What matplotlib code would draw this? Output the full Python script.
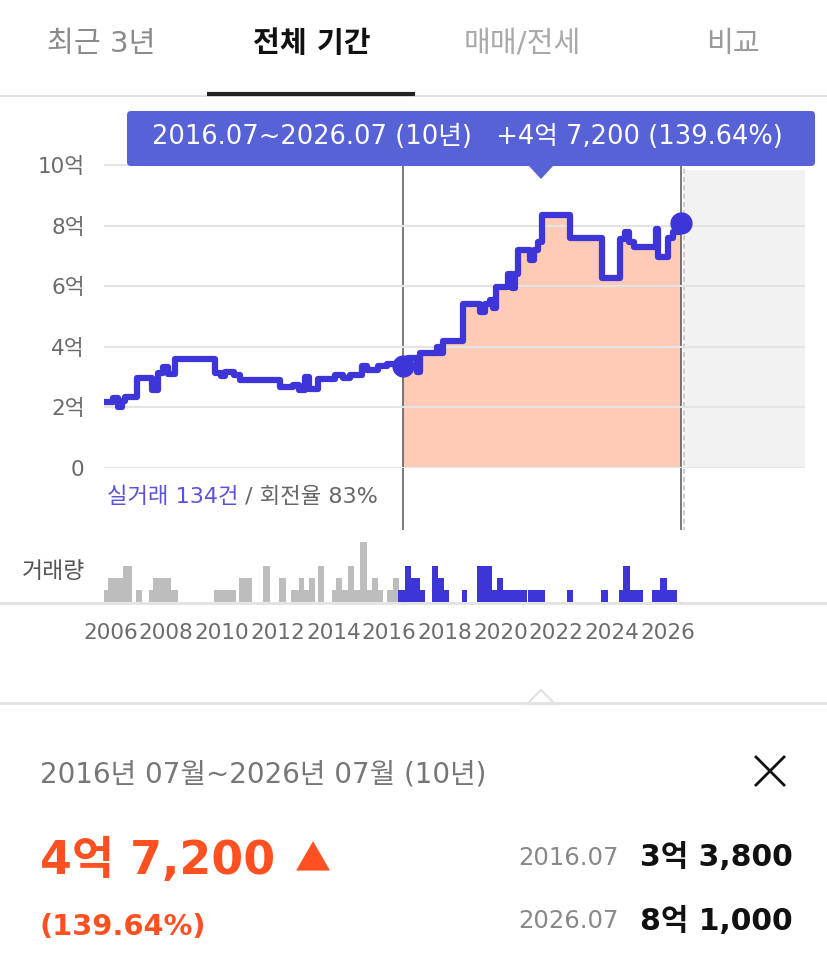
import matplotlib
matplotlib.use("Agg")
import matplotlib.pyplot as plt
from matplotlib.patches import FancyBboxPatch, Polygon

# Latin digits from DejaVu (wide like the original UI font), Hangul falls back
plt.rcParams["font.family"] = ["DejaVu Sans", "Noto Sans CJK KR"]

# ---- data -------------------------------------------------------------
tabs = ["최근 3년", "전체 기간", "매매/전세", "비교"]
active_tab = 1

# price path (억 원), step changes
line_t = [2005.86, 2006.10, 2006.28, 2006.40, 2006.52, 2006.94, 2007.48, 2007.72,
          2007.90, 2008.08, 2008.30, 2009.75, 2009.95, 2010.12, 2010.45, 2010.65,
          2012.09, 2012.56, 2012.78, 2013.00, 2013.12, 2013.45, 2014.06, 2014.36,
          2014.60, 2015.02, 2015.20, 2015.62, 2015.92, 2016.50, 2016.69, 2017.00,
          2017.10, 2017.71, 2017.81, 2017.95, 2018.67, 2019.27, 2019.45, 2019.63,
          2019.75, 2019.84, 2020.28, 2020.40, 2020.52, 2020.64, 2021.08, 2021.20,
          2021.36, 2021.48, 2022.50, 2023.66, 2024.29, 2024.47, 2024.62, 2024.80,
          2025.58, 2025.66, 2026.00, 2026.18, 2026.42, 2026.50]
line_v = [2.17, 2.30, 2.02, 2.20, 2.35, 2.98, 2.57, 3.13,
          3.34, 3.10, 3.59, 3.13, 3.02, 3.16, 3.07, 2.90,
          2.66, 2.74, 2.57, 3.00, 2.60, 2.93, 3.06, 2.98,
          3.08, 3.36, 3.25, 3.36, 3.43, 3.38, 3.62, 3.18,
          3.79, 4.00, 3.79, 4.20, 5.41, 5.15, 5.40, 5.54,
          5.27, 5.98, 6.40, 5.95, 6.40, 7.19, 6.85, 7.20,
          7.47, 8.35, 7.58, 6.26, 7.55, 7.80, 7.45, 7.30,
          7.90, 6.97, 7.60, 7.80, 8.10, 8.10]

# transaction volume (step histogram): segment start, end, count
vol_t0 = [2005.77, 2005.92, 2006.44, 2006.90, 2007.39, 2007.54, 2008.17, 2009.73,
          2010.62, 2011.49, 2012.06, 2012.48, 2012.78, 2012.96, 2013.14, 2013.44,
          2013.94, 2014.10, 2014.32, 2014.54, 2014.75, 2014.96, 2015.20, 2015.40,
          2015.62, 2015.92, 2016.15,
          2016.33, 2016.57, 2016.79, 2017.11, 2017.53, 2017.77, 2017.99, 2018.61,
          2019.15, 2019.69, 2019.87, 2020.10, 2021.00, 2022.38, 2023.61, 2024.26,
          2024.39, 2024.65, 2025.45, 2025.73, 2025.99]
vol_t1 = [2005.92, 2006.44, 2006.78, 2007.14, 2007.54, 2008.17, 2008.43, 2010.51,
          2011.07, 2011.73, 2012.30, 2012.78, 2012.96, 2013.14, 2013.34, 2013.68,
          2014.10, 2014.32, 2014.54, 2014.75, 2014.96, 2015.20, 2015.40, 2015.62,
          2015.80, 2016.15, 2016.36,
          2016.57, 2016.79, 2017.11, 2017.29, 2017.77, 2017.99, 2018.17, 2018.79,
          2019.69, 2019.87, 2020.10, 2020.94, 2021.60, 2022.62, 2023.85, 2024.39,
          2024.65, 2025.13, 2025.73, 2025.99, 2026.33]
vol_n = [1, 2, 3, 1, 1, 2, 1, 1,
         2, 3, 2, 1, 2, 1, 2, 3,
         1, 2, 1, 3, 1, 5, 1, 2,
         1, 1, 2,
         1, 3, 2, 1, 3, 2, 1, 1,
         3, 1, 2, 1, 1, 1, 1, 1,
         3, 1, 1, 2, 1]

year_ticks = list(range(2006, 2027, 2))
price_ticks = [0, 2, 4, 6, 8, 10]
price_labels = ["0", "2억", "4억", "6억", "8억", "10억"]

start_t, end_t = 2016.5, 2026.5
start_label, end_label = "2016.07", "2026.07"
start_price, end_price = 33800, 81000   # 만원
n_trades, turnover = 134, 83


def won(man):
    eok, rest = divmod(man, 10000)
    return f"{eok}억 {rest:,}"


diff = end_price - start_price
pct = diff / start_price * 100
years = round(end_t - start_t)

LINE = "#3E35D9"
FILL = "#FFCAB6"
ORANGE = "#FF5021"

# ---- layout (pixels of an 827x957 canvas) -------------------------------
W, H = 827, 957
fig = plt.figure(figsize=(W / 100, H / 100), dpi=100)
x0, x1 = 104, 805


def box(left, top, right, bottom):
    return [left / W, 1 - bottom / H, (right - left) / W, (bottom - top) / H]


px_per_year = 27.85
tl = 2006 + (x0 - 110.5) / px_per_year
tr = 2006 + (x1 - 110.5) / px_per_year

ax = fig.add_axes(box(x0, 160, x1, 468))
vax = fig.add_axes(box(x0, 530, x1, 602))
ov = fig.add_axes([0, 0, 1, 1], zorder=5)
ov.set_xlim(0, W)
ov.set_ylim(H, 0)
ov.axis("off")
ov.patch.set_alpha(0)

# ---- price chart ------------------------------------------------------
ymax = (468 - 160) / 30.3
ax.set_xlim(tl, tr)
ax.set_ylim(0, ymax)
for s in ax.spines.values():
    s.set_visible(False)
ax.set_xticks([])
ax.set_yticks(price_ticks)
ax.set_yticklabels(price_labels, fontsize=15.5, color="#6a6a6a")
ax.tick_params(axis="y", length=0, pad=14)
ax.set_axisbelow(False)
ax.grid(axis="y", color="#e4e4e4", lw=1.5, zorder=1.5)

grey_start = end_t + 0.1
ax.axvspan(grey_start, tr, ymin=0, ymax=(468 - 170) / 308,
           color="#f2f2f2", lw=0, zorder=0.2)

i0 = line_t.index(start_t)
ax.fill_between(line_t[i0:], line_v[i0:], 0, step="post", color=FILL,
                lw=0, zorder=1)
ax.plot(line_t, line_v, drawstyle="steps-post", color=LINE, lw=4.5,
        solid_joinstyle="round", zorder=3)

yb = (468 - 603) / 308
yt = (468 - 166) / 308
for t in (start_t, end_t):
    ax.axvline(t, ymin=yb, ymax=yt, color="#555555", lw=1.1, clip_on=False,
               zorder=2)
ax.axvline(grey_start, ymin=(468 - 532) / 308, ymax=yt, color="#c4c4c4",
           lw=1.2, ls=(0, (3, 2)), clip_on=False, zorder=0.3)

ax.plot([start_t, end_t], [start_price / 1e4, end_price / 1e4], "o",
        color=LINE, ms=15, zorder=4, clip_on=False)

# ---- volume -----------------------------------------------------------
vax.set_xlim(tl, tr)
vax.set_ylim(0, 6)
for s in vax.spines.values():
    s.set_visible(False)
vax.set_yticks([])
widths = [b - a for a, b in zip(vol_t0, vol_t1)]
colors = [LINE if a >= 2016.3 else "#bdbdbd" for a in vol_t0]
vax.bar(vol_t0, vol_n, width=widths, align="edge", color=colors, lw=0)
vax.set_xticks(year_ticks)
vax.set_xticklabels([str(y) for y in year_ticks], fontsize=15.5,
                    color="#6b6b6b")
vax.tick_params(axis="x", length=0, pad=15)

ov.plot([0, W], [603, 603], color="#e2e2e2", lw=2, zorder=0)
ov.text(22, 572, "거래량", fontsize=16.5, color="#555555", va="center")
t1 = ov.text(107, 497, f"실거래 {n_trades}건", fontsize=16, color="#5a52d8",
             va="center")
ov.annotate(f" / 회전율 {turnover}%", xy=(1, 0), xycoords=t1, va="bottom",
            fontsize=16, color="#666666")

# ---- tabs -------------------------------------------------------------
tab_x = [101, 312, 522, 733]
tab_c = ["#8a8a8a", "#111111", "#a9a9a9", "#9a9a9a"]
for i, (lab, x, c) in enumerate(zip(tabs, tab_x, tab_c)):
    ov.text(x, 44, lab, fontsize=21, color=c, ha="center", va="center",
            fontweight="bold" if i == active_tab else "normal")
ov.plot([0, W], [96, 96], color="#dcdcdc", lw=1.2)
ov.plot([207, 415], [94, 94], color="#222222", lw=3, solid_capstyle="butt")

# ---- tooltip ----------------------------------------------------------
ov.add_patch(FancyBboxPatch((127, 111), 688, 55,
                            boxstyle="round,pad=0,rounding_size=4",
                            fc="#5662d6", ec="none"))
ov.add_patch(Polygon([(528, 165), (554, 165), (541, 179)], closed=True,
                     fc="#5662d6", ec="none"))
ov.text(467, 137,
        f"{start_label}~{end_label} ({years}년)   +{won(diff)} ({pct:.2f}%)",
        fontsize=18.5, color="white", ha="center", va="center")

# ---- summary panel ----------------------------------------------------
ov.plot([0, W], [703, 703], color="#e2e2e2", lw=2)
ov.add_patch(Polygon([(527, 704), (541, 690), (555, 704)], closed=True,
                     fc="white", ec="#e2e2e2", lw=1.5))
ov.text(40, 775,
        f"{start_label[:4]}년 {start_label[5:]}월~{end_label[:4]}년 "
        f"{end_label[5:]}월 ({years}년)",
        fontsize=20, color="#777777", va="center")
ov.plot([756, 784], [757, 785], color="#111111", lw=2)
ov.plot([756, 784], [785, 757], color="#111111", lw=2)

big = ov.text(40, 861, won(diff), fontsize=33, fontweight="bold",
              color=ORANGE, va="center")
ov.annotate("▲", xy=(1, 0.5), xycoords=big, xytext=(14, 0),
            textcoords="offset points", va="center", fontsize=26,
            color=ORANGE, family=["Noto Sans CJK KR", "DejaVu Sans"])
ov.text(40, 927, f"({pct:.2f}%)", fontsize=20.8, fontweight="bold",
        color=ORANGE, va="center")

for y, lab, price in [(858, start_label, start_price),
                      (921, end_label, end_price)]:
    ov.text(518, y, lab, fontsize=17.5, color="#888888", va="center")
    ov.text(793, y, won(price), fontsize=21.5, fontweight="bold",
            color="#111111", va="center", ha="right")

fig.savefig("out.png", dpi=100)
